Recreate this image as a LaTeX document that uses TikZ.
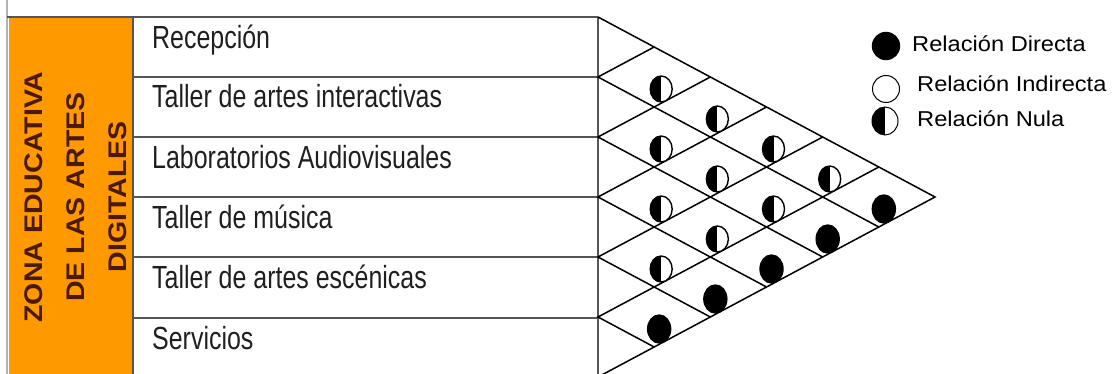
\documentclass[tikz,border=0pt]{standalone}
\usepackage{fontspec}
\setmainfont{Liberation Sans}
\newfontfamily\labfont[FakeStretch=0.78]{Liberation Sans}
\newfontfamily\legfont[FakeStretch=1.1]{Liberation Sans}
\newfontfamily\zonefont[FakeStretch=1.12]{Liberation Sans}
\usetikzlibrary{shapes.geometric}
\definecolor{zoneorange}{RGB}{255,153,0}
\definecolor{zonetext}{RGB}{75,25,10}
\definecolor{tablegray}{RGB}{85,85,85}
\begin{document}
\begin{tikzpicture}[x=1pt,y=-1pt,
  tline/.style={draw=tablegray,line width=1.6pt},
  gline/.style={draw=black,line width=1.5pt},
  lab/.style={anchor=base west,inner sep=0pt,text=black!88,font=\labfont\fontsize{32}{32}\selectfont},
  leg/.style={anchor=base west,inner sep=0pt,font=\legfont\fontsize{21.5}{21.5}\selectfont},
  rel/.style={ellipse,draw=black,line width=1.4pt,inner sep=0pt,minimum width=22pt,minimum height=26pt},
  directa/.style={rel,fill=black,minimum width=23pt,minimum height=28pt},
  indirecta/.style={rel,fill=white},
  nula/.style={rel,fill=white,path picture={\fill[black] (path picture bounding box.south west) rectangle (path picture bounding box.north);}},
]
\useasboundingbox (0,0) rectangle (1115,374);
% zone box
\fill[zoneorange] (9,17) rectangle (133,374);
\draw[gray!60,line width=1.5pt] (7,0) -- (7,374);
\node[rotate=90,align=center,text=zonetext,font=\zonefont\bfseries\fontsize{25.5}{42}\selectfont] (zone) at (76,197) {ZONA EDUCATIVA\\DE LAS ARTES\\DIGITALES};
% table
\draw[tline] (7,17) -- (598,17);
\foreach \y in {77,137,197,257,318} \draw[tline] (133,\y) -- (598,\y);
\draw[tline] (133,17) -- (133,374);
\draw[tline] (598,17) -- (598,374);
\node[lab] (recepcion) at (152,49) {Recepción};
\node[lab] (interactivas) at (152,108) {Taller de artes interactivas};
\node[lab] (audiovisuales) at (152,168) {Laboratorios Audiovisuales};
\node[lab] (musica) at (152,228) {Taller de música};
\node[lab] (escenicas) at (152,288) {Taller de artes escénicas};
\node[lab] (servicios) at (152,349) {Servicios};
% triangle matrix
\foreach \k in {0,...,6} \coordinate (L\k) at (598,17+60*\k);
\coordinate (A) at (935,197);
\foreach \k in {1,...,5} {
  \coordinate (T\k) at (598+\k*56.17,17+30*\k);
  \coordinate (B\k) at (598+\k*56.17,377-30*\k);
}
\draw[gline] (L0) -- (A) -- (L6);
\foreach \k [evaluate=\k as \m using int(6-\k)] in {1,...,5}
  \draw[gline] (T\k) -- (L\k) -- (B\m);
\foreach \i/\j in {1/2,1/3,2/3,1/4,2/4,1/5,3/4,2/5,3/5,4/5}
  \node[nula] (c\i\j) at ({598+(\j-\i)*56.17+7},{17+30*(\i+\j-1)+12}) {};
\foreach \i/\j in {1/6,2/6,3/6,4/6,5/6}
  \node[directa] (c\i\j) at ({598+(\j-\i)*56.17+5},{17+30*(\i+\j-1)+12}) {};
% legend
\node[directa,minimum width=27pt,minimum height=27pt] (kd) at (886,46) {};
\node[indirecta,line width=1pt,minimum width=27pt,minimum height=27pt] (ki) at (886,89) {};
\node[nula,line width=1pt,minimum width=26pt,minimum height=28pt] (kn) at (885,121) {};
\node[leg] (td) at (912,52) {Relación Directa};
\node[leg] (ti) at (917,92) {Relación Indirecta};
\node[leg] (tn) at (917,127) {Relación Nula};
\end{tikzpicture}
\end{document}
